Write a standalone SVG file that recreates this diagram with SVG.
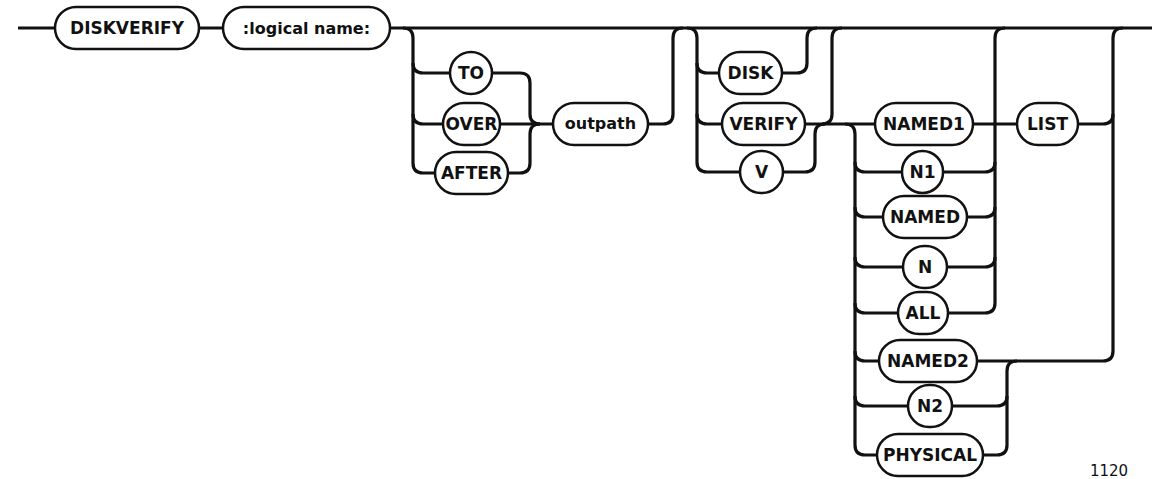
<svg xmlns="http://www.w3.org/2000/svg" width="1152" height="479" viewBox="0 0 1152 479">
<style>
.bg{fill:#ffffff}
.ln{fill:none;stroke:#111;stroke-width:3.2;stroke-linecap:butt;stroke-linejoin:round}
.bx{fill:#ffffff;stroke:#111;stroke-width:2.5}
.t{font-family:"DejaVu Sans","Liberation Sans",sans-serif;font-weight:bold;font-size:17px;fill:#111;text-anchor:middle}
.tl{font-family:"DejaVu Sans","Liberation Sans",sans-serif;font-weight:bold;font-size:16px;fill:#111;text-anchor:middle}
.fig{font-family:"DejaVu Sans","Liberation Sans",sans-serif;font-size:15px;fill:#111;text-anchor:middle}
</style>
<rect class="bg" x="0" y="0" width="1152" height="479"/>
<g id="connectors">
<path class="ln" d="M18,28 H55 M199,28 H223 M390,28 H1152"/>
<path class="ln" d="M403,28 Q413,28 413,38 V163 Q413,173 423,173 H435"/>
<path class="ln" d="M413,63 Q413,73 423,73 H450"/>
<path class="ln" d="M413,114 Q413,124 423,124 H443"/>
<path class="ln" d="M492,73 H520 Q530,73 530,83 V114 Q530,124 540,124"/>
<path class="ln" d="M508,173 H520 Q530,173 530,163 V134 Q530,124 540,124"/>
<path class="ln" d="M500,124 H553"/>
<path class="ln" d="M648,124 H663 Q673,124 673,114 V38 Q673,28 683,28"/>
<path class="ln" d="M687,28 Q697,28 697,38 V162 Q697,172 707,172 H740"/>
<path class="ln" d="M697,63 Q697,73 707,73 H719"/>
<path class="ln" d="M697,114 Q697,124 707,124 H722"/>
<path class="ln" d="M782,73 H797 Q807,73 807,63 V38 Q807,28 817,28"/>
<path class="ln" d="M783,172 H805 Q815,172 815,162 V134 Q815,124 825,124"/>
<path class="ln" d="M805,124 H875"/>
<path class="ln" d="M822,124 Q832,124 832,114 V38 Q832,28 842,28"/>
<path class="ln" d="M845,124 Q855,124 855,134 V445 Q855,455 865,455 H877"/>
<path class="ln" d="M855,162 Q855,172 865,172 H902"/>
<path class="ln" d="M855,207 Q855,217 865,217 H883"/>
<path class="ln" d="M855,257 Q855,267 865,267 H903"/>
<path class="ln" d="M855,303 Q855,313 865,313 H898"/>
<path class="ln" d="M855,351 Q855,361 865,361 H879"/>
<path class="ln" d="M855,396 Q855,406 865,406 H908"/>
<path class="ln" d="M1005,28 Q995,28 995,38 V303 Q995,313 985,313 H948"/>
<path class="ln" d="M943,172 H985 Q995,172 995,162"/>
<path class="ln" d="M967,217 H985 Q995,217 995,207"/>
<path class="ln" d="M947,267 H985 Q995,267 995,257"/>
<path class="ln" d="M973,124 H1017"/>
<path class="ln" d="M1078,124 H1103 Q1113,124 1113,114"/>
<path class="ln" d="M977,361 H1103 Q1113,361 1113,351 V38 Q1113,28 1123,28"/>
<path class="ln" d="M1017,361 Q1007,361 1007,371 V445 Q1007,455 997,455 H983"/>
<path class="ln" d="M952,406 H997 Q1007,406 1007,396"/>
</g>
<g id="n-diskverify"><rect class="bx" x="55" y="7" width="144" height="42" rx="21"/><text class="t" x="127" y="34">DISKVERIFY</text></g>
<g id="n-logical"><rect class="bx" x="223" y="7" width="167" height="42" rx="21"/><text class="tl" x="306.5" y="34">:logical name:</text></g>
<g id="n-to"><rect class="bx" x="450" y="52" width="42" height="42" rx="21"/><text class="t" x="471" y="79">TO</text></g>
<g id="n-over"><rect class="bx" x="443" y="103" width="57" height="42" rx="21"/><text class="t" x="471.5" y="130">OVER</text></g>
<g id="n-after"><rect class="bx" x="435" y="152" width="73" height="42" rx="21"/><text class="t" x="471.5" y="179">AFTER</text></g>
<g id="n-outpath"><rect class="bx" x="553" y="103" width="95" height="42" rx="21"/><text class="tl" x="600.5" y="129">outpath</text></g>
<g id="n-disk"><rect class="bx" x="719" y="52" width="63" height="42" rx="21"/><text class="t" x="750.5" y="79">DISK</text></g>
<g id="n-verify"><rect class="bx" x="722" y="103" width="83" height="42" rx="21"/><text class="t" x="763.5" y="130">VERIFY</text></g>
<g id="n-v"><rect class="bx" x="740" y="151" width="43" height="42" rx="21"/><text class="t" x="761.5" y="178">V</text></g>
<g id="n-named1"><rect class="bx" x="875" y="103" width="98" height="42" rx="21"/><text class="t" x="924" y="130">NAMED1</text></g>
<g id="n-n1"><rect class="bx" x="902" y="151" width="41" height="42" rx="20.5"/><text class="t" x="922.5" y="178">N1</text></g>
<g id="n-named"><rect class="bx" x="883" y="196" width="84" height="42" rx="21"/><text class="t" x="925" y="223">NAMED</text></g>
<g id="n-n"><rect class="bx" x="903" y="246" width="44" height="42" rx="21"/><text class="t" x="925" y="273">N</text></g>
<g id="n-all"><rect class="bx" x="898" y="292" width="50" height="42" rx="21"/><text class="t" x="923" y="319">ALL</text></g>
<g id="n-named2"><rect class="bx" x="879" y="340" width="98" height="42" rx="21"/><text class="t" x="928" y="367">NAMED2</text></g>
<g id="n-n2"><rect class="bx" x="908" y="385" width="44" height="42" rx="21"/><text class="t" x="930" y="412">N2</text></g>
<g id="n-physical"><rect class="bx" x="877" y="434" width="106" height="42" rx="21"/><text class="t" x="930" y="461">PHYSICAL</text></g>
<g id="n-list"><rect class="bx" x="1017" y="103" width="61" height="42" rx="21"/><text class="t" x="1047.5" y="130">LIST</text></g>
<text class="fig" x="1109" y="476">1120</text>
</svg>
